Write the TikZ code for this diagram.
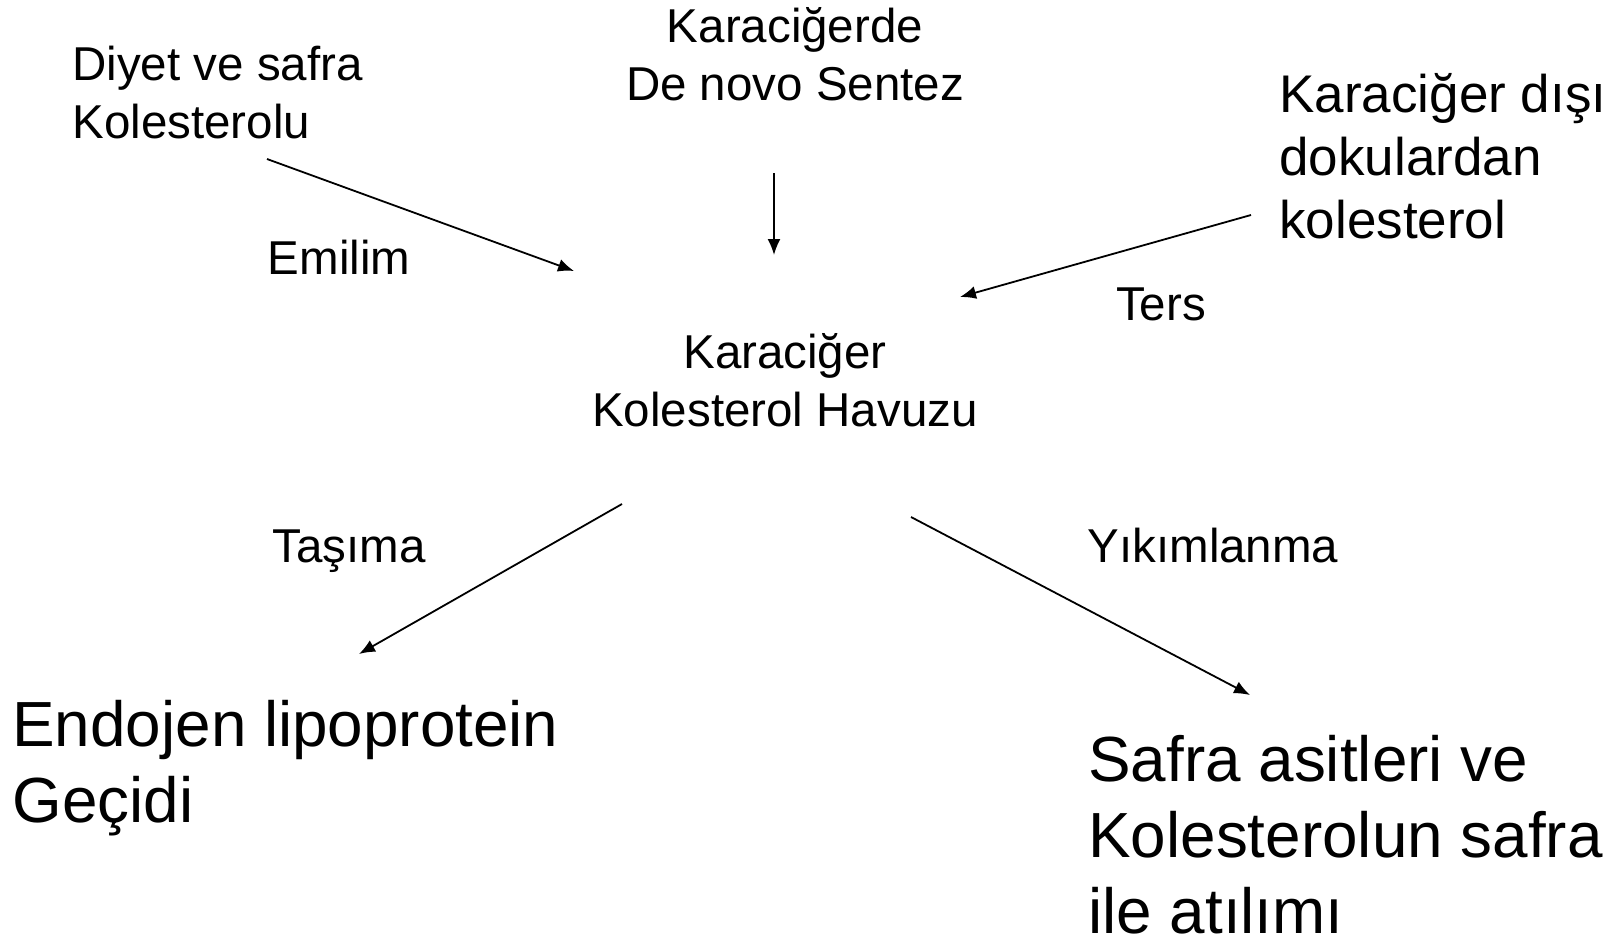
\documentclass[tikz,border=0pt]{standalone}
\usepackage{fontspec}
\setmainfont{Liberation Sans}
\usetikzlibrary{arrows.meta}
\begin{document}
\begin{tikzpicture}[x=0.5pt, y=-0.5pt,
    lbl/.style={inner sep=0pt, font=\fontsize{23.75}{29}\selectfont},
    mid/.style={inner sep=0pt, font=\fontsize{26.5}{31.5}\selectfont},
    big/.style={inner sep=0pt, font=\fontsize{31.9}{38}\selectfont},
    arr/.style={-{Latex[length=8pt,width=6.5pt]}, line width=0.9pt}]
	\useasboundingbox (0,0) rectangle (1622,937);
	\node[lbl, anchor=base west, align=left] (diyet) at (72,138) {Diyet ve safra\\Kolesterolu};
	\node[lbl, anchor=base, align=center] (denovo) at (795,100) {Karaciğerde\\De novo Sentez};
	\node[mid, anchor=base west, align=left] (disi) at (1279,238) {Karaciğer dışı\\dokulardan\\kolesterol};
	\node[lbl, anchor=base, align=center] (havuz) at (785,426) {Karaciğer\\Kolesterol Havuzu};
	\node[big, anchor=base west, align=left] (endojen) at (12,822) {Endojen lipoprotein\\Geçidi};
	\node[big, anchor=base west, align=left] (safra) at (1088,933) {Safra asitleri ve\\Kolesterolun safra\\ile atılımı};
	\node[lbl, anchor=base] (emilim) at (339,274) {Emilim};
	\node[lbl, anchor=base] (ters) at (1161,320) {Ters};
	\node[lbl, anchor=base] (tasima) at (349,562) {Taşıma};
	\node[lbl, anchor=base] (yikim) at (1213,562) {Yıkımlanma};
	\coordinate (diyetA) at (267,159);
	\coordinate (diyetB) at (574,271);
	\coordinate (denovoA) at (774,173);
	\coordinate (denovoB) at (774,255);
	\coordinate (disiA) at (1251,215);
	\coordinate (disiB) at (960,297);
	\coordinate (endA) at (622,504);
	\coordinate (endB) at (359,654);
	\coordinate (safraA) at (911,517);
	\coordinate (safraB) at (1250,695);
	\draw[arr] (diyetA) -- (diyetB);
	\draw[arr] (denovoA) -- (denovoB);
	\draw[arr] (disiA) -- (disiB);
	\draw[arr] (endA) -- (endB);
	\draw[arr] (safraA) -- (safraB);
\end{tikzpicture}
\end{document}
